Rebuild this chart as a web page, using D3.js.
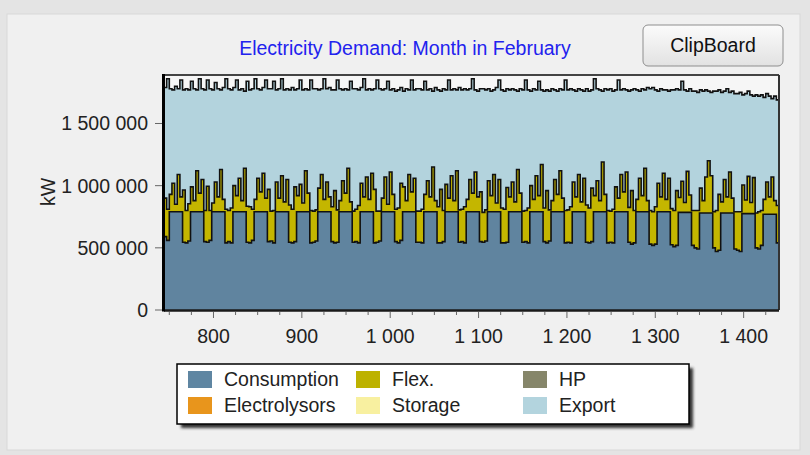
<!DOCTYPE html>
<html>
<head>
<meta charset="utf-8">
<script src="https://cdn.jsdelivr.net/npm/d3@7"></script>
<style>
  body { margin: 0; background: #e4e4e4; }
  svg { display: block; font-family: "Liberation Sans", Arial, sans-serif; }
</style>
</head>
<body>
<div id="chart"></div>
<script>
// hourly axis of February, values read in 3 hour steps, in 1000 kW
const startHour = 744;
const binHours = 3;
const endHour = 1440;

const consumption = [
  590, 560, 790, 790, 790, 790, 790, 545,
  540, 555, 790, 790, 790, 790, 790, 550,
  545, 560, 790, 790, 790, 790, 790, 540,
  550, 540, 790, 790, 790, 790, 790, 545,
  540, 560, 790, 790, 790, 790, 790, 550,
  555, 540, 790, 790, 790, 790, 790, 545,
  540, 550, 790, 790, 790, 790, 790, 540,
  545, 555, 790, 790, 790, 790, 790, 550,
  540, 545, 790, 790, 790, 790, 790, 545,
  550, 540, 790, 790, 790, 790, 790, 540,
  545, 555, 790, 790, 790, 790, 790, 550,
  540, 560, 790, 790, 790, 790, 790, 545,
  545, 540, 790, 790, 790, 790, 790, 540,
  540, 550, 790, 790, 790, 790, 790, 545,
  550, 540, 790, 790, 790, 790, 790, 550,
  545, 555, 790, 790, 790, 790, 790, 540,
  540, 545, 790, 790, 790, 790, 790, 545,
  550, 540, 790, 790, 790, 790, 790, 550,
  540, 555, 790, 790, 790, 790, 790, 540,
  545, 540, 790, 790, 790, 790, 790, 545,
  540, 550, 790, 790, 790, 790, 790, 540,
  545, 540, 790, 790, 790, 790, 790, 545,
  530, 540, 790, 790, 790, 790, 790, 530,
  520, 530, 790, 790, 790, 790, 790, 525,
  510, 520, 785, 785, 785, 785, 785, 520,
  500, 490, 780, 780, 780, 780, 780, 500,
  470, 480, 780, 780, 780, 780, 780, 490,
  480, 470, 775, 775, 775, 775, 775, 500,
  490, 520, 770, 770, 770, 770, 770, 540
];

const flex = [
  310, 250, 140, 230, 60, 300, 120, 420,
  260, 300, 200, 90, 330, 150, 260, 250,
  450, 240, 70, 240, 120, 340, 100, 270,
  250, 280, 210, 130, 270, 90, 350, 290,
  290, 250, 100, 270, 160, 310, 110, 420,
  240, 260, 240, 110, 290, 80, 260, 300,
  270, 440, 130, 220, 70, 330, 150, 260,
  250, 250, 190, 300, 100, 240, 120, 280,
  420, 260, 90, 250, 150, 350, 80, 250,
  260, 300, 230, 120, 280, 100, 310, 430,
  250, 240, 110, 280, 60, 320, 140, 260,
  280, 460, 200, 90, 300, 160, 270, 250,
  250, 270, 140, 250, 120, 360, 90, 290,
  430, 250, 220, 110, 290, 90, 330, 260,
  260, 290, 100, 260, 150, 320, 120, 400,
  240, 250, 250, 130, 300, 70, 260, 280,
  270, 440, 120, 240, 80, 340, 150, 250,
  250, 280, 210, 100, 290, 130, 380, 270,
  420, 250, 90, 260, 140, 330, 110, 260,
  260, 290, 240, 120, 300, 80, 270, 300,
  280, 430, 130, 250, 90, 400, 140, 260,
  250, 270, 200, 110, 300, 160, 320, 280,
  430, 260, 100, 270, 130, 350, 90, 270,
  270, 300, 230, 120, 310, 100, 270, 290,
  290, 440, 120, 250, 80, 330, 140, 280,
  300, 310, 200, 100, 290, 420, 300, 290,
  330, 450, 90, 270, 130, 330, 120, 300,
  310, 320, 230, 110, 300, 90, 290, 280,
  300, 280, 120, 260, 140, 300, 110, 300
];

const exportKW = [
  890, 1050, 850, 750, 950, 690, 940, 805,
  980, 915, 850, 900, 650, 920, 730, 970,
  855, 980, 910, 800, 870, 640, 900, 1050,
  980, 950, 790, 930, 710, 900, 620, 1005,
  940, 970, 970, 720, 820, 690, 950, 810,
  985, 1040, 740, 880, 780, 900, 730, 925,
  980, 780, 860, 840, 910, 660, 830, 1050,
  985, 975, 790, 690, 970, 750, 880, 940,
  810, 1045, 900, 730, 840, 630, 970, 985,
  970, 930, 770, 950, 700, 890, 670, 810,
  1055, 985, 870, 710, 990, 660, 850, 950,
  950, 770, 770, 900, 680, 900, 710, 985,
  985, 960, 910, 730, 870, 610, 910, 940,
  790, 980, 760, 950, 690, 900, 650, 985,
  960, 950, 880, 730, 920, 660, 850, 830,
  995, 965, 740, 840, 680, 930, 800, 950,
  950, 795, 860, 750, 900, 630, 840, 975,
  1050, 950, 760, 890, 690, 920, 600, 940,
  810, 955, 900, 720, 830, 660, 870, 1050,
  965, 950, 740, 850, 690, 900, 700, 935,
  940, 790, 940, 740, 890, 570, 850, 970,
  985, 950, 780, 950, 680, 830, 660, 935,
  810, 980, 880, 700, 860, 630, 910, 980,
  1000, 940, 740, 870, 670, 880, 700, 955,
  970, 820, 865, 805, 905, 645, 855, 960,
  960, 950, 790, 880, 700, 560, 670, 970,
  960, 840, 880, 710, 870, 640, 860, 950,
  950, 960, 725, 855, 685, 865, 655, 950,
  930, 930, 820, 710, 810, 630, 840, 850
];

const seriesNames = ["Consumption", "Flex", "Export"];
const legendNames = ["Consumption", "Flex.", "HP", "Electrolysors", "Storage", "Export"];
const legendColors = ["#5f86a2", "#bdb200", "#86866a", "#e8951c", "#f8f0a0", "#b3d4de"];
const areaColors = {Consumption: "#60849f", Flex: "#c4b600", Export: "#b3d3dd"};
const xTicks = [800, 900, 1000, 1100, 1200, 1300, 1400];
const yTicks = [0, 500000, 1000000, 1500000];

const W = 810, H = 455;
const plot = {left: 164, right: 779, top: 75, bottom: 310};
const fontSize = "19.5px";

const svg = d3.select("#chart").append("svg").attr("width", W).attr("height", H);

// panel
svg.append("rect").attr("x", 7).attr("y", 14).attr("width", 793).attr("height", 436)
  .attr("fill", "#f0f0f0").attr("stroke", "#d8d8d8");

svg.append("text").attr("x", 405).attr("y", 55).attr("text-anchor", "middle")
  .attr("font-size", fontSize).attr("fill", "#2222ee")
  .text("Electricity Demand: Month in February");

// ClipBoard button
const grad = svg.append("defs").append("linearGradient").attr("id", "btn")
  .attr("x1", 0).attr("y1", 0).attr("x2", 0).attr("y2", 1);
grad.append("stop").attr("offset", "0%").attr("stop-color", "#fbfbfb");
grad.append("stop").attr("offset", "100%").attr("stop-color", "#e2e2e2");
svg.append("rect").attr("x", 643).attr("y", 25).attr("width", 140).attr("height", 41)
  .attr("rx", 5).attr("fill", "url(#btn)").attr("stroke", "#8e8e8e");
svg.append("text").attr("x", 713).attr("y", 52).attr("text-anchor", "middle")
  .attr("font-size", fontSize).attr("fill", "#111").text("ClipBoard");

// data rows
const rows = consumption.map((c, i) => ({
  hour: startHour + i * binHours,
  Consumption: c * 1000,
  Flex: flex[i] * 1000,
  Export: exportKW[i] * 1000
}));
rows.push(Object.assign({}, rows[rows.length - 1], {hour: endHour}));

const x = d3.scaleLinear().domain([startHour, endHour]).range([plot.left, plot.right]);
const y = d3.scaleLinear().domain([0, 1890000]).range([plot.bottom, plot.top]);

const stacked = d3.stack().keys(seriesNames)(rows);

svg.append("clipPath").attr("id", "clip").append("rect")
  .attr("x", plot.left).attr("y", plot.top)
  .attr("width", plot.right - plot.left).attr("height", plot.bottom - plot.top);

svg.append("rect").attr("x", plot.left).attr("y", plot.top)
  .attr("width", plot.right - plot.left).attr("height", plot.bottom - plot.top)
  .attr("fill", "#f6f6f6");

const area = d3.area().curve(d3.curveStepAfter)
  .x(d => x(d.data.hour)).y0(d => y(d[0])).y1(d => y(d[1]));
const topLine = d3.line().curve(d3.curveStepAfter)
  .x(d => x(d.data.hour)).y(d => y(d[1]));

const g = svg.append("g").attr("clip-path", "url(#clip)");
g.selectAll("path.area").data(stacked).enter().append("path")
  .attr("class", "area")
  .attr("fill", d => areaColors[d.key])
  .attr("d", area);
g.selectAll("path.edge").data(stacked).enter().append("path")
  .attr("class", "edge")
  .attr("fill", "none").attr("stroke", "#111").attr("stroke-width", 1.6)
  .attr("d", topLine);

// frame
svg.append("line").attr("x1", plot.left).attr("x2", plot.right).attr("y1", plot.top).attr("y2", plot.top)
  .attr("stroke", "#444").attr("stroke-width", 2);
svg.append("line").attr("x1", plot.right).attr("x2", plot.right).attr("y1", plot.top).attr("y2", plot.bottom)
  .attr("stroke", "#333").attr("stroke-width", 2);
svg.append("line").attr("x1", plot.left).attr("x2", plot.right).attr("y1", plot.bottom + 0.5).attr("y2", plot.bottom + 0.5)
  .attr("stroke", "#1a1a1a").attr("stroke-width", 2.5);
svg.append("line").attr("x1", plot.left - 0.5).attr("x2", plot.left - 0.5).attr("y1", plot.top - 1).attr("y2", plot.bottom + 1.5)
  .attr("stroke", "#000").attr("stroke-width", 3);

// y axis
const fmt = d3.formatLocale({decimal: ".", thousands: " ", grouping: [3], currency: ["", ""]}).format(",");
svg.selectAll("line.ytick").data(yTicks).enter().append("line")
  .attr("x1", plot.left - 9).attr("x2", plot.left - 2)
  .attr("y1", d => y(d)).attr("y2", d => y(d))
  .attr("stroke", "#666");
svg.selectAll("text.ylab").data(yTicks).enter().append("text")
  .attr("x", 148).attr("y", d => y(d) + 7).attr("text-anchor", "end")
  .attr("font-size", fontSize).attr("fill", "#222").text(d => fmt(d));
svg.append("text").attr("transform", "translate(55,192) rotate(-90)")
  .attr("text-anchor", "middle").attr("font-size", fontSize).attr("fill", "#222").text("kW");

// x axis
const minorTicks = d3.range(750, endHour, 25).filter(v => v % 100 !== 0);
svg.selectAll("line.xminor").data(minorTicks).enter().append("line")
  .attr("x1", d => x(d)).attr("x2", d => x(d))
  .attr("y1", plot.bottom + 2).attr("y2", plot.bottom + 5)
  .attr("stroke", "#666");
svg.selectAll("line.xtick").data(xTicks).enter().append("line")
  .attr("x1", d => x(d)).attr("x2", d => x(d))
  .attr("y1", plot.bottom + 2).attr("y2", plot.bottom + 8)
  .attr("stroke", "#666");
svg.selectAll("text.xlab").data(xTicks).enter().append("text")
  .attr("x", d => x(d)).attr("y", 343).attr("text-anchor", "middle")
  .attr("font-size", fontSize).attr("fill", "#222").text(d => fmt(d));

// legend
const shadow = svg.select("defs").append("filter").attr("id", "blur")
  .attr("x", "-10%").attr("y", "-20%").attr("width", "120%").attr("height", "140%");
shadow.append("feGaussianBlur").attr("stdDeviation", 1.5);
svg.append("rect").attr("x", 181).attr("y", 368).attr("width", 512).attr("height", 60)
  .attr("fill", "#333").attr("filter", "url(#blur)");
svg.append("rect").attr("x", 177).attr("y", 364).attr("width", 512).attr("height", 60)
  .attr("fill", "#fff").attr("stroke", "#000").attr("stroke-width", 1.5);

const legCols = [188, 356, 523];
const legRows = [371, 397];
const leg = svg.selectAll("g.leg").data(legendNames).enter().append("g")
  .attr("transform", (d, i) => `translate(${legCols[i % 3]},${legRows[Math.floor(i / 3)]})`);
leg.append("rect").attr("width", 24).attr("height", 17).attr("fill", (d, i) => legendColors[i]);
leg.append("text").attr("x", 36).attr("y", 15).attr("font-size", fontSize).attr("fill", "#222")
  .text(d => d);
</script>
</body>
</html>
